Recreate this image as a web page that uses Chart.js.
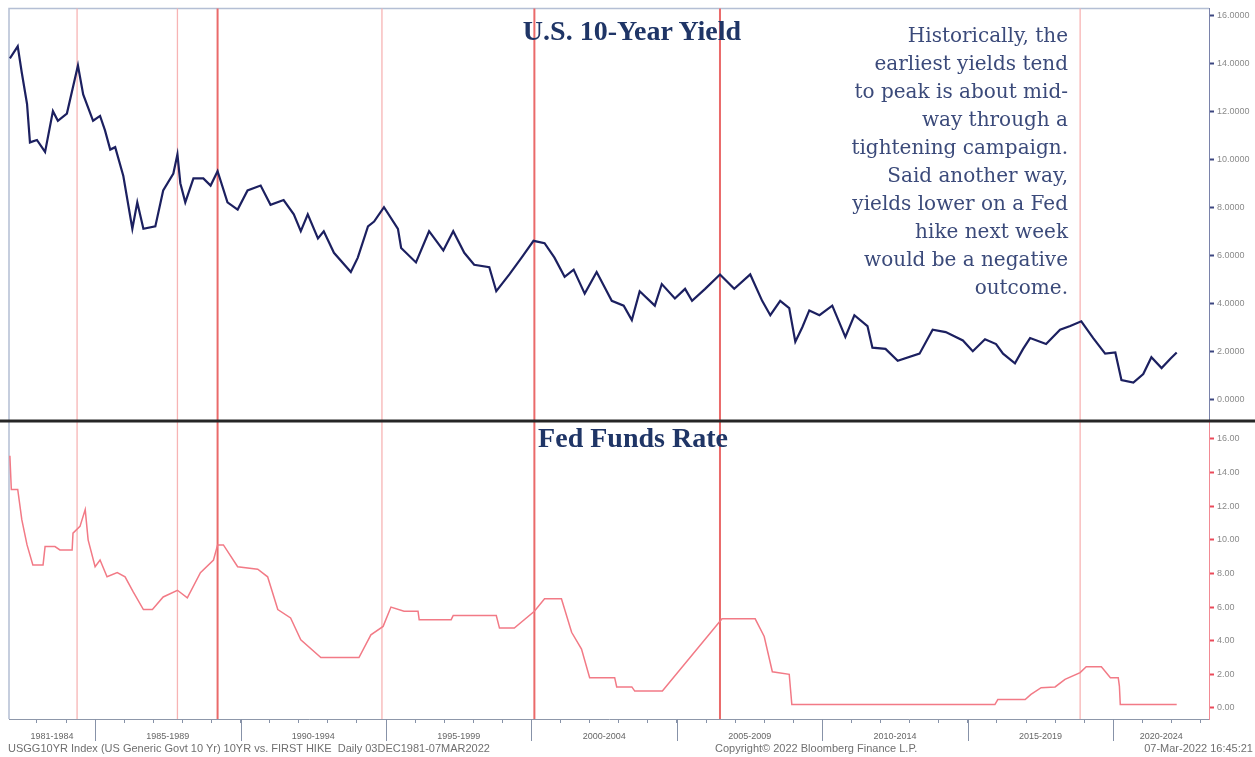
<!DOCTYPE html>
<html>
<head>
<meta charset="utf-8">
<script src="https://cdn.jsdelivr.net/npm/chart.js"></script>
<style>
body{margin:0;background:#fff;}
#wrap{position:relative;width:1255px;height:757px;overflow:hidden;}
#chart{position:absolute;left:0;top:0;}
.t{position:absolute;white-space:nowrap;}
.title{font-family:"Liberation Serif",serif;font-weight:bold;font-size:28px;line-height:28px;color:#1f3566;transform:translateX(-50%);}
#note{position:absolute;right:187px;top:21px;text-align:right;font-family:"DejaVu Serif",serif;font-size:20px;line-height:28px;color:#3b4a7a;}
.foot{font-family:"Liberation Sans",Arial,sans-serif;font-size:11px;line-height:14px;color:#6f6f6f;top:741px;}
</style>
</head>
<body>
<div id="wrap">
  <canvas id="chart" width="1255" height="757"></canvas>
  <div class="t title" style="left:632px;top:17px;">U.S. 10-Year Yield</div>
  <div class="t title" style="left:633px;top:424px;">Fed Funds Rate</div>
  <div id="note">Historically, the<br>earliest yields tend<br>to peak is about mid-<br>way through a<br>tightening campaign.<br>Said another way,<br>yields lower on a Fed<br>hike next week<br>would be a negative<br>outcome.</div>
  <div class="t foot" style="left:8px;">USGG10YR Index (US Generic Govt 10 Yr) 10YR vs. FIRST HIKE &nbsp;Daily 03DEC1981-07MAR2022</div>
  <div class="t foot" style="left:715px;">Copyright© 2022 Bloomberg Finance L.P.</div>
  <div class="t foot" style="right:2px;">07-Mar-2022 16:45:21</div>
</div>
<script>
// 10 year yield (decimal years)
const yieldYears = [1982.07,1982.34,1982.48,1982.66,1982.76,1983.00,1983.28,1983.55,1983.72,1984.03,
  1984.41,1984.59,1984.93,1985.17,1985.34,1985.52,1985.69,1985.97,1986.28,1986.45,
  1986.66,1987.07,1987.34,1987.69,1987.83,1987.93,1988.10,1988.38,1988.72,1988.97,
  1989.21,1989.55,1989.90,1990.24,1990.69,1991.03,1991.48,1991.83,1992.07,1992.31,
  1992.66,1992.86,1993.21,1993.79,1994.03,1994.38,1994.59,1994.93,1995.41,1995.52,
  1996.03,1996.48,1996.97,1997.31,1997.69,1998.03,1998.55,1998.79,1999.24,1999.66,
  2000.07,2000.45,2000.79,2001.14,2001.45,2001.83,2002.24,2002.76,2003.17,2003.45,
  2003.72,2004.24,2004.48,2004.93,2005.28,2005.52,2005.97,2006.48,2006.97,2007.52,
  2007.93,2008.21,2008.55,2008.86,2009.07,2009.31,2009.55,2009.90,2010.34,2010.79,
  2011.10,2011.55,2011.72,2012.17,2012.59,2013.34,2013.79,2014.24,2014.83,2015.17,
  2015.59,2015.97,2016.21,2016.62,2016.90,2017.14,2017.69,2018.17,2018.52,2018.90,
  2019.31,2019.72,2020.07,2020.28,2020.69,2021.03,2021.31,2021.66,2021.97,2022.18];
const yieldValues = [14.2,14.7,13.6,12.3,10.7,10.8,10.3,12.0,11.6,11.9,
  13.9,12.7,11.6,11.8,11.2,10.4,10.5,9.3,7.1,8.2,
  7.1,7.2,8.7,9.4,10.2,9.0,8.2,9.2,9.2,8.9,
  9.5,8.2,7.9,8.7,8.9,8.1,8.3,7.7,7.0,7.7,
  6.7,7.0,6.1,5.3,5.9,7.2,7.4,8.0,7.1,6.3,
  5.7,7.0,6.2,7.0,6.1,5.6,5.5,4.5,5.2,5.9,
  6.6,6.5,5.9,5.1,5.4,4.4,5.3,4.1,3.9,3.3,
  4.5,3.9,4.8,4.2,4.6,4.1,4.6,5.2,4.6,5.2,
  4.1,3.5,4.1,3.8,2.4,3.0,3.7,3.5,3.9,2.6,
  3.5,3.05,2.15,2.1,1.6,1.9,2.9,2.8,2.45,2.0,
  2.5,2.3,1.9,1.5,2.1,2.55,2.3,2.9,3.05,3.25,
  2.55,1.9,1.95,0.8,0.7,1.05,1.75,1.3,1.7,1.95];

// fed funds target
const fedYears = [1982.07,1982.12,1982.34,1982.48,1982.66,1982.86,1983.21,1983.28,1983.62,1983.79,
  1984.21,1984.24,1984.48,1984.66,1984.76,1985.00,1985.17,1985.41,1985.76,1986.03,
  1986.31,1986.66,1986.97,1987.34,1987.83,1988.17,1988.62,1989.07,1989.21,1989.41,
  1989.90,1990.59,1990.93,1991.28,1991.72,1992.07,1992.76,1994.07,1994.48,1994.90,
  1995.17,1995.62,1996.10,1996.14,1997.24,1997.31,1998.79,1998.90,1999.41,2000.10,
  2000.45,2001.03,2001.38,2001.72,2002.00,2002.86,2002.93,2003.45,2003.55,2004.50,
  2006.48,2006.55,2007.69,2008.00,2008.28,2008.86,2008.95,2015.93,2016.03,2016.97,
  2017.17,2017.52,2018.00,2018.34,2018.86,2019.07,2019.59,2019.90,2020.17,2020.21,
  2020.24,2022.18];
const fedValues = [15.0,13.0,13.0,11.2,9.7,8.5,8.5,9.6,9.6,9.4,
  9.4,10.4,10.8,11.8,10.0,8.4,8.8,7.8,8.05,7.8,
  6.9,5.85,5.85,6.6,7.0,6.55,8.05,8.8,9.7,9.7,
  8.4,8.25,7.8,5.85,5.35,4.05,3.0,3.0,4.35,4.85,
  6.0,5.75,5.75,5.25,5.25,5.5,5.5,4.75,4.75,5.75,
  6.5,6.5,4.5,3.5,1.8,1.8,1.25,1.25,1.0,1.0,
  5.15,5.3,5.3,4.25,2.15,2.0,0.2,0.2,0.5,0.5,
  0.8,1.2,1.25,1.7,2.1,2.45,2.45,1.8,1.8,1.3,
  0.2,0.2];

const hikeMarkers = [1984.38,1987.83,1989.21,1994.86,2000.10,2006.48,2018.86];
const periodStarts = [1981,1985,1990,1995,2000,2005,2010,2015,2020];
const periodLabels = ['1981-1984','1985-1989','1990-1994','1995-1999','2000-2004','2005-2009','2010-2014','2015-2019','2020-2024'];
const yieldTicks = [0,2,4,6,8,10,12,14,16];
const fedTicks = [0,2,4,6,8,10,12,14,16];

const xMin = 1982.04, xMax = 2023.29;

function toPoints(xs, ys){
    return xs.map((x,i) => ({x:x, y:ys[i]}));
}

// adds the minor tick halfway between each labelled tick
function withMinor(list){
    let out = [];
    list.forEach((v,i) => {
        out.push({value:v, major:true});
        if(i < list.length-1) out.push({value:(v+list[i+1])/2, major:false});
    });
    return out;
}

const panels = {
    id:'panels',
    beforeDatasetsDraw(chart){
        const ctx = chart.ctx, a = chart.chartArea, x = chart.scales.x;
        ctx.save();
        ctx.strokeStyle = '#b4bfd4';
        ctx.lineWidth = 1.5;
        ctx.beginPath();
        ctx.moveTo(a.left, a.bottom);
        ctx.lineTo(a.left, a.top);
        ctx.lineTo(a.right, a.top);
        ctx.stroke();
        hikeMarkers.forEach((yr,i) => {
            const px = x.getPixelForValue(yr);
            const strong = (i===2 || i===4 || i===5);
            ctx.strokeStyle = strong ? '#ea6a6a' : '#f7b4b4';
            ctx.lineWidth = strong ? 2 : 1.3;
            ctx.beginPath();
            ctx.moveTo(px, a.top);
            ctx.lineTo(px, a.bottom);
            ctx.stroke();
        });
        ctx.restore();
    },
    afterDraw(chart){
        const ctx = chart.ctx, x = chart.scales.x, y2 = chart.scales.y2;
        ctx.save();
        ctx.fillStyle = '#262626';
        ctx.fillRect(0, y2.top - 1.5, chart.width, 3);
        ctx.strokeStyle = '#8792a8';
        ctx.lineWidth = 1;
        periodStarts.forEach(yr => {
            if(yr > xMin && yr < xMax){
                const px = Math.round(x.getPixelForValue(yr)) + 0.5;
                ctx.beginPath();
                ctx.moveTo(px, x.top);
                ctx.lineTo(px, x.top + 22);
                ctx.stroke();
            }
        });
        ctx.restore();
    }
};

let ctx = document.getElementById('chart').getContext('2d');

let chart = new Chart(ctx, {
    type:'line',
    data:{
        datasets:[{
            label:'USGG10YR',
            data:toPoints(yieldYears, yieldValues),
            yAxisID:'y',
            borderColor:'#1c2060',
            borderWidth:2.2,
            pointRadius:0,
            tension:0
        },{
            label:'Fed Funds',
            data:toPoints(fedYears, fedValues),
            yAxisID:'y2',
            borderColor:'#f27a86',
            borderWidth:1.5,
            pointRadius:0,
            tension:0
        }]
    },
    options:{
        responsive:false,
        animation:false,
        layout:{padding:{left:9, top:6, right:0, bottom:0}},
        plugins:{legend:{display:false}, tooltip:{enabled:false}},
        scales:{
            x:{
                type:'linear',
                min:xMin,
                max:xMax,
                afterBuildTicks(s){
                    let t = [];
                    for(let yr = Math.ceil(xMin); yr <= xMax; yr++) t.push({value:yr});
                    periodStarts.forEach((st,i) => {
                        const a = Math.max(st, xMin);
                        const b = Math.min(i < periodStarts.length-1 ? periodStarts[i+1] : xMax, xMax);
                        t.push({value:(a+b)/2, lbl:periodLabels[i]});
                    });
                    t.sort((p,q) => p.value - q.value);
                    s.ticks = t;
                },
                afterFit(s){ s.height = 38; },
                grid:{
                    drawOnChartArea:false,
                    tickLength:4,
                    tickColor:c => (c.tick && c.tick.lbl) ? 'rgba(0,0,0,0)' : '#8792a8'
                },
                border:{color:'#8d97aa'},
                ticks:{
                    autoSkip:false,
                    maxRotation:0,
                    padding:8,
                    color:'#666',
                    font:{size:9, family:'Liberation Sans'},
                    callback:(v,i,ts) => ts[i].lbl || ''
                }
            },
            y:{
                type:'linear',
                position:'right',
                stack:'panels',
                stackWeight:414,
                min:-0.905,
                max:16.28,
                afterBuildTicks(s){ s.ticks = withMinor(yieldTicks); },
                afterFit(s){ s.width = 46; },
                grid:{
                    drawOnChartArea:false,
                    tickLength:5,
                    tickColor:'#3c4680',
                    tickWidth:c => (c.tick && c.tick.major) ? 2 : 1
                },
                border:{color:'#7a82aa'},
                ticks:{
                    padding:3,
                    color:'#8a8a8a',
                    font:{size:9, family:'Liberation Sans'},
                    callback:(v,i,ts) => ts[i].major ? v.toFixed(4) : ''
                }
            },
            y2:{
                type:'linear',
                position:'right',
                stack:'panels',
                stackWeight:299,
                min:-0.66,
                max:17.07,
                afterBuildTicks(s){ s.ticks = withMinor(fedTicks); },
                afterFit(s){ s.width = 46; },
                grid:{
                    drawOnChartArea:false,
                    tickLength:5,
                    tickColor:'#ea4a5a',
                    tickWidth:c => (c.tick && c.tick.major) ? 2 : 1
                },
                border:{color:'#f28a94'},
                ticks:{
                    padding:3,
                    color:'#8a8a8a',
                    font:{size:9, family:'Liberation Sans'},
                    callback:(v,i,ts) => ts[i].major ? v.toFixed(2) : ''
                }
            }
        }
    },
    plugins:[panels]
});
</script>
</body>
</html>
